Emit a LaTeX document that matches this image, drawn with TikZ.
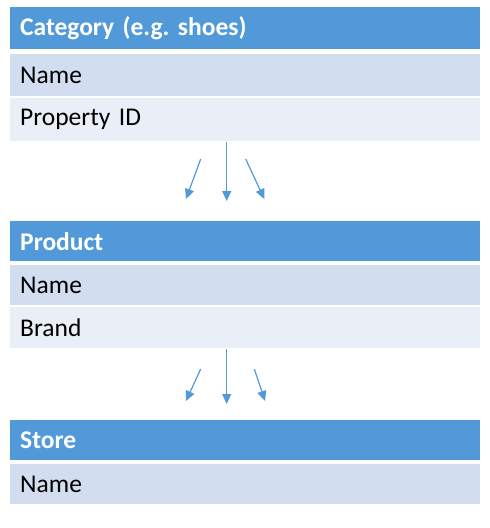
\documentclass[tikz,border=0pt]{standalone}
\usepackage{fontspec}
\setmainfont{Carlito}
\usepackage{tikz}
\usetikzlibrary{arrows.meta}

\definecolor{hdrblue}{HTML}{5199D8}
\definecolor{banda}{HTML}{D2DEEF}
\definecolor{bandb}{HTML}{EAEFF7}

\tikzset{
  cell/.style = {anchor = north west, minimum width = 470pt, text width = 450pt,
                 inner xsep = 10pt, inner ysep = 0pt, align = left,
                 font = \fontsize{25.5}{29}\selectfont\frenchspacing},
  hdr/.style  = {cell, fill = hdrblue, text = white, font = \fontsize{25.5}{29}\selectfont\bfseries\frenchspacing},
  rowa/.style = {cell, fill = banda},
  rowb/.style = {cell, fill = bandb},
  link/.style = {draw = hdrblue, line width = 1.2pt, -{Triangle[length = 10pt, width = 9pt]}}
}

\begin{document}
\begin{tikzpicture}[x = 1pt, y = -1pt]
        \useasboundingbox (0,0) rectangle (490,528);
        % category
        \node[hdr, minimum height = 42pt] (cat) at (10, 7) {Category (e.g. shoes)};
        \node[rowa, minimum height = 42pt] (catname) at (10, 54) {Name};
        \node[rowb, minimum height = 43pt] (catprop) at (10, 98) {Property ID};
        % product
        \node[hdr, minimum height = 40pt] (prod) at (10, 221) {Product};
        \node[rowa, minimum height = 40pt] (prodname) at (10, 265) {Name};
        \node[rowb, minimum height = 41pt] (prodbrand) at (10, 307) {Brand};
        % store
        \node[hdr, minimum height = 40pt] (store) at (10, 420) {Store};
        \node[rowa, minimum height = 40pt] (storename) at (10, 464) {Name};
        % arrows
        \coordinate (ca) at (226.7, 142);
        \coordinate (cb) at (226.7, 201);
        \coordinate (la1) at (200.7, 159);
        \coordinate (lb1) at (186, 199);
        \coordinate (ra1) at (245.7, 159);
        \coordinate (rb1) at (264.3, 199);
        \draw[link] (ca) -- (cb);
        \draw[link] (la1) -- (lb1);
        \draw[link] (ra1) -- (rb1);
        \coordinate (cc) at (226.7, 349);
        \coordinate (cd) at (226.7, 404);
        \coordinate (la2) at (200.7, 369);
        \coordinate (lb2) at (186, 401);
        \coordinate (ra2) at (254.3, 369);
        \coordinate (rb2) at (265, 401);
        \draw[link] (cc) -- (cd);
        \draw[link] (la2) -- (lb2);
        \draw[link] (ra2) -- (rb2);
\end{tikzpicture}
\end{document}
